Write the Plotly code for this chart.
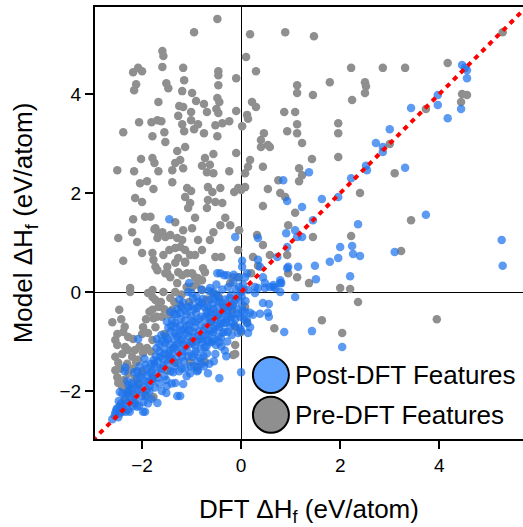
import plotly.graph_objects as go

# ---------------- data ----------------
pre_x = [
    -0.48, -0.95, -1.59, -1.57, -2.18, -2.08, -2.0, -1.59, -1.17, -0.46, -0.46, -0.1, -2.12, -2.16, -1.51, -1.47,
    -1.15, -0.46, -1.19, -0.99, -1.67, -0.48, -0.44, -0.91, -0.75, -1.25, -1.17, -1.01, -0.69, -0.5, -0.46, -0.1,
    -1.27, -2.06, -1.81, -1.69, -1.61, -1.01, -1.19, -0.87, -0.52, -0.38, -0.24, 0.02, -2.38, -1.79, -1.55, -1.15,
    -0.95, -0.75, -0.48, -1.53,
    -2.5, -2.16, -1.67, -2.04, -1.9, -1.39, -1.77, -1.79, -2.02, -1.75, -1.29, -1.13, -1.33, -1.23, -1.17, -1.39,
    -0.73, -0.56, -0.79, -0.63, -0.56, -0.69, -0.24, -0.1, -1.09, -1.01, -1.13, -1.03, -1.07, -0.67, -0.58, -0.42,
    -0.67, -0.52, -0.38, -0.69, -0.14, -2.14, -2.0, -2.18, -1.94, -1.83, -1.33, -0.93, -0.32, -0.22, -0.42, -0.56,
    -0.63, -0.87, -0.99, -1.17, -1.73, -1.59, -1.69, -1.53, -1.43, -1.29, -1.19, -2.48, -2.2, -2.1, -2.38, -2.0,
    -1.79, -1.77, -1.57, -1.45, -1.33, -1.23, -1.13, -1.03, -1.27, -1.13, -0.79, -0.93, -0.52, -0.40, -0.06, -0.04,
    -1.53, -1.43, -1.27, -1.09, -0.93, -0.79, -0.73, -0.22, -0.16, -1.79, -2.24, 0.08, -0.06, -1.75, -1.67,
    0.18, 0.89, 1.47, 0.10, 0.30, 2.22, 2.86, 3.31, 1.13, 1.13, 1.45, 1.79, 2.5, 2.52, 2.5, 2.24,
    0.22, 0.30, 0.12, 0.14, 0.87, 1.09, 1.13, 0.93, 1.13, 1.96, 1.96, 0.46, 0.40, 0.54, 1.23,
    4.17, 5.28, 4.46, 4.56, 4.44, 3.73, 3.0, 3.1, 2.4, 1.96, 1.43, 1.17, 1.23, 1.17, 0.75, 0.79,
    0.89, 0.54, 0.44, 1.09, 0.95, 1.45, 2.22, 3.43, 3.23, 0.44, 0.58, 0.93,
    0.40, 0.58, 0.18, 0.14, 0.44, 0.08, 0.0, 0.32, 0.24, 0.34, 0.20, -0.06, 1.13, 0.95, 1.37, 2.0, 2.2,
    -2.6, -2.46, -2.24, -2.54, -2.5, -2.38, -2.28, -2.34, -2.28, -2.14, -2.2, -2.54, -2.48, -2.54, -2.5, -2.48,
    -2.40, -2.30, -2.34, -2.28, -2.08, -1.98, -1.9, -1.79, -1.88, -1.98, -1.73, -1.77, -1.79, -1.67, -1.73, -1.88,
    -1.57, -1.43, -1.33, -1.29, -1.19, -0.99, -0.87, -0.77, -0.99, -0.79, -0.58, -1.33, -1.13, -1.49, -1.73, -0.36,
    -0.18, -0.12, -0.16, -0.73, -0.89, -1.03, -1.77, -1.94, -2.08, -1.79, -1.49, -1.33, -1.79, -1.69, -1.49,
    -1.39, -1.23, -1.05, -0.7, -0.45, -1.6, -1.55, -2.0, -2.15, -1.0, -0.6,
    2.36, 1.63, 2.04, 0.67, 0.08, 0.12, -0.12, -0.12, 3.95, 0.0,
    -2.42, -2.35, -2.5, -2.4, -2.3, -2.44, -2.36, -2.2, -2.12, -2.18, -2.05, -2.0, -1.92, -1.85, -1.82, -1.7,
    -1.62, -1.55, -1.45, -1.35, -1.2, -1.1, -0.9, -2.28, -2.2, -2.45, -2.15,
]
pre_y = [
    5.52, 5.25, 4.87, 4.77, 4.44, 4.53, 4.46, 4.55, 4.53, 4.46, 4.38, 4.32, 4.2, 4.08, 4.22, 4.12,
    4.28, 4.18, 4.06, 4.02, 3.84, 3.92, 3.84, 3.86, 3.8, 3.76, 3.74, 3.64, 3.64, 3.7, 3.62, 3.66,
    3.56, 3.43, 3.43, 3.47, 3.45, 3.47, 3.39, 3.39, 3.37, 3.41, 3.45, 3.35, 3.23, 3.15, 3.23, 3.25,
    3.29, 3.21, 3.15, 3.03,
    2.46, 2.44, 2.44, 2.2, 2.24, 2.22, 2.08, 2.71, 2.69, 2.61, 2.85, 2.93, 2.61, 2.67, 2.5, 2.46,
    2.71, 2.79, 2.55, 2.57, 2.4, 2.42, 2.44, 2.81, 2.1, 2.04, 1.92, 1.8, 1.7, 2.12, 2.02, 2.1,
    1.86, 1.82, 1.8, 1.7, 2.02, 1.9, 1.82, 1.47, 1.52, 1.52, 1.41, 1.5, 1.5, 1.35, 1.35, 1.21,
    1.05, 1.05, 1.29, 1.25, 1.29, 1.21, 1.09, 1.11, 1.15, 1.09, 1.05, 1.09, 1.21, 1.01, 0.63, 0.79,
    0.79, 0.65, 0.75, 0.85, 0.89, 0.91, 0.85, 0.75, 0.69, 0.61, 0.85, 0.75, 0.71, 0.71, 0.85, 1.25,
    0.38, 0.3, 0.4, 0.38, 0.3, 0.24, 0.4, 0.18, 0.3, 0.04, 0.08, 2.12, 2.1, 1.27, 1.19,
    5.21, 5.25, 5.17, 4.75, 4.46, 4.53, 4.53, 4.53, 4.18, 4.02, 3.98, 4.24, 4.24, 4.16, 4.02, 3.88,
    3.84, 3.74, 3.58, 3.5, 3.64, 3.64, 3.39, 3.25, 3.21, 3.41, 3.21, 3.21, 3.07, 2.97, 3.01,
    4.63, 5.25, 4.0, 3.98, 3.84, 3.7, 2.99, 2.4, 2.0, 2.73, 2.69, 2.5, 2.36, 2.24, 2.26, 2.0,
    1.92, 2.08, 1.74, 1.6, 1.35, 1.11, 1.13, 1.45, 0.83, 0.95, 0.75, 0.75,
    2.93, 2.93, 2.67, 2.53, 2.53, 2.4, 2.06, 1.15, 0.71, 0.53, 0.38, 0.30, 0.3, 0.38, 0.18, 0.08, 0.06,
    -0.61, -0.36, 0.0, -0.97, -1.07, -0.81, -0.91, -1.11, -1.17, -1.17, -1.31, -1.31, -1.43, -1.58, -1.72, -1.84,
    -1.92, -2.04, -2.18, -1.64, -1.37, -1.23, -1.13, -0.97, -0.83, -0.71, -0.71, -0.53, -0.36, -0.30, -0.16, -0.02,
    0.0, -0.12, 0.0, 0.18, 0.34, 0.38, 0.28, 0.48, 0.10, 0.04, -0.02, 0.59, 0.59, 0.51, 0.51, -0.30,
    -0.36, -0.71, -1.27, -1.41, -1.52, -1.41, -2.12, -2.08, -1.88, -1.74, -1.58, -1.43, -0.10, 0.44, 0.38,
    -0.36, -0.26, -0.2, -0.15, -0.1, -0.5, -0.85, -1.6, -1.75, -1.0, -0.6,
    -0.20, -0.57, -0.83, -0.73, -0.30, -0.61, -1.07, -1.25, -0.55, -0.81,
    -0.55, -0.7, -0.85, -1.25, -1.45, -1.55, -1.78, -1.55, -1.42, -0.95, -1.1, -0.85, -0.55, -0.4, -1.2, -0.5,
    -0.2, -0.35, -0.45, -0.2, -0.05, 0.1, 0.15, -1.95, -2.05, -2.3, -2.25,
]

post_x = [
    -1.45, -0.12, 0.02, 0.02, -0.48, -0.34, -1.05, -0.63, -0.42,
    4.46, 4.52, 4.56, 4.56, 4.44, 3.97, 3.97, 4.17, 3.43, 3.0, 2.72, 2.86, 2.86, 3.31, 2.52, 2.54,
    2.22, 1.96, 1.63, 1.37, 0.85, 0.93, 1.23, 1.45, 1.09, 1.13, 1.23, 2.36, 3.73, 5.26, 2.0, 2.24,
    2.26, 2.4, 1.96, 3.1, 0.91, 0.93,
    0.34, 0.34, 0.44, 0.48, 0.79, 0.65, 0.28, 0.73, 1.79, 2.2, 1.49, 1.51, 1.15, 0.95,
    1.09, 1.43, 0.87, 2.04, 0.44, 0.56, 0.69, 0.81, 0.34, 0.48, 0.58, 0.14, 0.28, 0.08, 0.18, 0.24,
    0.38, 0.54, 0.56, 0.18, 0.14, 0.0, -0.06, 5.28, 0.0, 0.12, 0.38, 0.79, 0.12, 0.93, 0.79, 0.65,
    -2.08, -0.44, -0.67, -0.87, -1.03, -1.17, -1.33, -1.29, -1.23, -1.51, -1.69, -1.94, -2.10, -2.28,
    -2.40, -2.54, -2.6, -2.48, -1.98,
    -2.55, -2.5, -2.45, -2.42, -2.38, -2.35, -2.3, -2.28, -2.25, -2.22, -2.2, -2.3, -2.35, -2.4,
    -2.15, -2.12, -2.1, -2.05, -2.0, -2.0, -1.95, -1.92, -1.9, -1.88, -1.85, -1.82, -1.8, -1.85, -2.05, -1.95,
    -1.78, -1.75, -1.72, -1.7, -1.68, -1.65, -1.62, -1.6, -1.58, -1.55, -1.55, -1.52, -1.5, -1.48, -1.45, -1.42,
    -1.42, -1.4, -1.7, -1.65, -1.5,
    -1.38, -1.36, -1.35, -1.32, -1.3, -1.28, -1.26, -1.25, -1.22, -1.2, -1.18, -1.16, -1.15, -1.12, -1.1, -1.08,
    -1.06, -1.04, -1.02, -1.0, -1.3, -1.2, -1.1,
    -0.98, -0.96, -0.95, -0.92, -0.9, -0.88, -0.86, -0.85, -0.82, -0.8, -0.78, -0.76, -0.74, -0.72, -0.7, -0.68,
    -0.66, -0.64, -0.62, -0.6, -0.9, -0.75,
    -0.58, -0.56, -0.54, -0.52, -0.5, -0.48, -0.46, -0.44, -0.42, -0.4, -0.38, -0.36, -0.34, -0.32, -0.3, -0.28,
    -0.26, -0.24, -0.22, -0.2, -0.5, -0.3,
    -0.18, -0.16, -0.14, -0.12, -0.1, -0.08, -0.06, -0.04, -0.02, 0.0, 0.02, 0.04, 0.06, -0.15, -0.05, 0.08,
    -1.07, -0.56, -0.28, -1.43, -2.34,
    -2.52, -2.47, -2.41, -2.33, -2.27, -2.19, -2.16, -2.13, -2.07, -2.03, -1.97, -1.93, -1.89, -1.84, -1.81, -1.77,
    -1.74, -1.71, -1.67, -1.63, -1.61, -1.57, -1.53, -1.51, -1.47, -1.46, -1.43, -1.39, -1.37, -1.34, -1.31, -1.29,
    -1.27, -1.24, -1.21, -1.19, -1.17, -1.14, -1.13, -1.11, -1.09, -1.07, -1.03, -1.01, -0.99, -0.97, -0.94, -0.93,
    -0.91, -0.89, -0.87, -0.84, -0.83, -0.81, -0.79, -0.77, -0.73, -0.71, -0.69, -0.67, -0.65, -0.63, -0.61, -0.57,
    -0.55, -0.53, -0.51, -0.47, -0.45, -0.43, -0.41, -0.37, -0.35, -0.33, -0.29, -0.27, -0.23, -0.21, -0.19, -0.17,
    -0.13, -0.11, -0.07, -0.03, 0.01, 0.03, 0.05, 0.09, 0.11, -2.45, -2.25, -2.06, -1.88, -1.6, -1.4, -1.2,
    -0.95, -0.8, -0.55, -1.5, -1.35, -1.25, -1.0, -0.8, -0.65,
    -1.48, -1.44, -1.41, -1.36, -1.33, -1.29, -1.26, -1.23, -1.19, -1.16, -1.13, -1.1, -1.05, -1.02, -0.98, -0.96,
    -0.92, -0.89, -0.86, -0.83, -0.79, -0.76, -0.74, -0.7, -0.67, -0.64, -0.6, -0.58, -0.55, -0.52, -0.49, -0.46,
    -0.44, -0.4, -0.37, -0.34, -0.31, -0.26, -0.22, -0.18, -1.55, -1.6, -1.65, -1.75, -1.8, -1.9, -2.0, -2.1,
    -2.2, -2.3,
]
post_y = [
    1.47, 1.11, 0.63, 0.51, 0.38, 0.34, 0.18, 0.08, 0.38,
    4.59, 4.53, 4.48, 4.32, 3.7, 3.98, 3.78, 3.51, 3.72, 3.29, 3.01, 2.93, 2.83, 2.51, 2.55, 2.46,
    2.3, 1.92, 1.88, 2.42, 2.26, 1.84, 1.72, 1.45, 1.25, 1.11, 1.11, 1.37, 1.56, 1.05, 0.91, 0.93,
    0.77, 0.73, 0.69, 0.81, 1.19, 0.91,
    1.09, 0.65, 0.3, 0.18, 0.18, 0.1, 0.1, 0.71, 0.61, 0.32, 0.53, 0.26, 0.51, 0.51,
    -0.10, -0.79, -0.81, -1.11, -0.22, -0.24, 0.08, 0.18, 0.08, 0.08, 0.1, 0.04, -0.02, -0.40, -0.42, -0.46,
    -0.44, -0.42, -0.5, -0.71, -0.83, -0.77, -0.83, 0.53, -1.62, 0.38, 0.51, 0.0, -0.63, 0.48, 0.24, 0.14,
    -0.95, -1.74, -1.64, -1.58, -1.64, -1.86, -1.84, -2.1, -2.1, -2.04, -2.24, -2.42, -2.32, -2.38,
    -2.42, -2.44, -2.57, -2.53, -2.42,
    -2.5, -2.35, -2.45, -2.25, -2.3, -2.15, -2.25, -2.0, -2.1, -1.95, -2.2, -1.8, -1.6, -2.05,
    -1.9, -2.05, -1.75, -1.85, -1.95, -1.65, -1.8, -2.1, -1.55, -1.7, -1.9, -1.45, -1.6, -2.0, -1.5, -1.35,
    -1.75, -1.5, -1.3, -1.65, -1.4, -1.2, -1.55, -1.0, -1.35, -1.7, -1.15, -0.9, -1.45, -1.25, -1.05, -1.6,
    -0.8, -1.35, -0.95, -1.85, -1.9,
    -1.15, -0.95, -1.5, -0.7, -1.3, -1.05, -0.85, -1.6, -0.55, -1.2, -0.95, -1.4, -0.75, -1.1, -0.45, -1.3,
    -0.9, -0.65, -1.5, -1.05, -0.45, -0.3, -1.7,
    -0.8, -0.35, -1.25, -0.6, -1.0, -1.4, -0.2, -0.8, -1.15, -0.5, -0.95, -1.3, -0.3, -0.7, -1.1, -0.45,
    -0.85, -1.45, -0.15, -0.6, -0.1, -1.5,
    -1.0, -0.35, -0.75, -1.25, -0.05, -0.5, -0.9, -0.2, -0.65, -1.1, 0.05, -0.4, -0.8, -0.15, -0.55, -1.0,
    0.1, -0.3, -0.7, -0.05, 0.15, -1.3,
    -0.45, 0.2, -0.2, -0.55, 0.05, -0.35, -0.1, 0.1, -0.5, 0.0, -0.25, 0.15, -0.55, 0.35, 0.3, 0.3,
    0.0, 0.0, 0.34, -0.4, -1.52,
    -2.38, -2.2, -2.36, -2.42, -1.88, -2.31, -1.62, -2.18, -1.98, -1.72, -2.22, -1.47, -1.83, -1.62, -2.16, -1.38,
    -1.93, -1.13, -1.73, -1.31, -0.87, -1.49, -1.02, -1.78, -0.72, -1.37, -1.18, -0.58, -1.62, -0.83, -1.08, -0.34,
    -1.44, -0.69, -0.97, -1.31, -0.21, -0.58, -1.54, -0.83, -1.19, -0.31, -1.02, -0.49, -1.31, -0.13, -0.71, -1.08,
    -0.42, -1.6, -0.88, -0.27, -1.33, -0.66, -1.01, -0.14, -0.52, -0.87, -1.24, -0.29, -0.64, -1.02, -0.41, -0.81,
    -0.13, -0.55, -1.07, -0.28, -0.71, -0.44, -0.93, -0.22, -0.62, -1.18, -0.38, -0.81, -0.12, -0.51, -0.87, -0.27,
    -0.68, -0.15, -0.44, -0.72, -0.09, -0.38, 0.05, -0.18, -0.55, -2.02, -2.42, -2.3, -2.25, -2.0, -1.85, -1.55,
    -1.5, -1.45, -1.4, -0.6, -0.45, -0.15, -0.02, 0.05, 0.02,
    -0.95, -1.3, -0.68, -1.12, -0.62, -0.9, -1.22, -0.42, -0.78, -1.06, -0.38, -0.68, -0.78, -0.28, -0.58, -0.92,
    -1.2, -0.32, -0.55, -0.95, -0.22, -0.78, -1.12, -0.38, -0.98, -0.52, -0.78, -0.25, -0.95, -0.42, -0.68, -0.12,
    -1.02, -0.55, -0.82, -0.32, -0.62, -0.48, -0.28, -0.62, -1.25, -1.55, -1.05, -1.45, -1.8, -1.98, -2.1, -1.6,
    -1.85, -2.05,
]

parity = [-3.0, 6.0]            # y = x reference line
x_ticks = [-2, 0, 2, 4]
y_ticks = [-2, 0, 2, 4]
x_range = [-2.95, 5.69]
y_range = [-2.97, 5.76]
legend_names = ["Post-DFT Features", "Pre-DFT Features"]

GRAY = "#8f8f8f"
BLUE = "rgb(30,115,235)"
FONT = "Liberation Sans"

fig = go.Figure()
fig.add_trace(go.Scatter(x=pre_x, y=pre_y, mode="markers", name=legend_names[1],
                         marker=dict(size=8.5, color=GRAY, line=dict(width=0)),
                         showlegend=False))
fig.add_trace(go.Scatter(x=post_x, y=post_y, mode="markers", name=legend_names[0],
                         marker=dict(size=8.5, color=BLUE, opacity=0.72, line=dict(width=0)),
                         showlegend=False))
fig.add_trace(go.Scatter(x=parity, y=parity, mode="lines", showlegend=False,
                         line=dict(color="#ff0000", width=4, dash="5px,5px")))

# legend drawn by hand (plotly caps legend marker size)
leg_cx = 0.411
leg_rows = [0.148, 0.056]
leg_cols = ["#5fa3ff", GRAY]
for yy, col, name in zip(leg_rows, leg_cols, legend_names):
    fig.add_shape(type="circle", xref="paper", yref="paper",
                  xsizemode="pixel", ysizemode="pixel",
                  xanchor=leg_cx, yanchor=yy, x0=-18, x1=18, y0=-18, y1=18,
                  fillcolor=col, line=dict(color="black", width=2), layer="above")
    fig.add_annotation(x=0.463, y=yy, xref="paper", yref="paper", text=name,
                       showarrow=False, xanchor="left", yanchor="middle",
                       font=dict(family=FONT, size=26, color="black"))

axis_common = dict(
    showgrid=False, zeroline=True, zerolinecolor="black", zerolinewidth=1,
    showline=True, linecolor="black", linewidth=2,
    ticks="outside", ticklen=8, tickwidth=2, tickcolor="black",
    tickfont=dict(family=FONT, size=19, color="black"),
    layer="above traces",
)
fig.update_layout(
    width=523, height=527,
    margin=dict(l=95, r=0, t=7, b=88),
    paper_bgcolor="white", plot_bgcolor="white",
    font=dict(family=FONT, color="black"),
    xaxis=dict(range=x_range, tickvals=x_ticks, mirror=True,
               title=dict(text="DFT ΔH<sub>f</sub> (eV/atom)",
                          font=dict(family=FONT, size=26), standoff=34),
               **axis_common),
    yaxis=dict(range=y_range, tickvals=y_ticks,
               title=dict(text="Model ΔH<sub>f</sub> (eV/atom)",
                          font=dict(family=FONT, size=26), standoff=19),
               **axis_common),
)

fig.write_html("out.html")
